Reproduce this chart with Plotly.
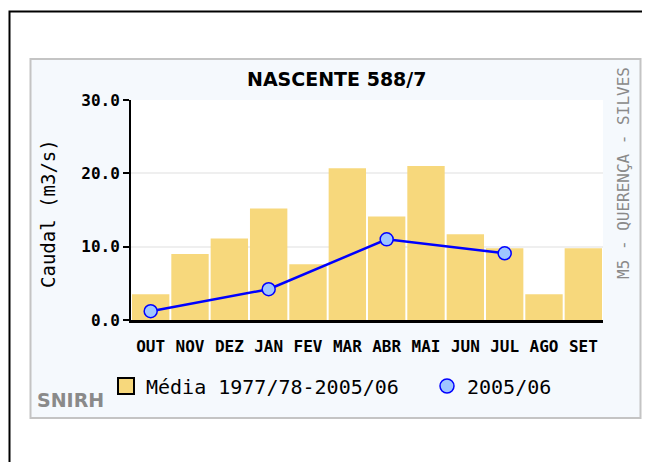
import plotly.graph_objects as go

months = ["OUT", "NOV", "DEZ", "JAN", "FEV", "MAR", "ABR", "MAI", "JUN", "JUL", "AGO", "SET"]
media = [3.5, 9.0, 11.1, 15.2, 7.6, 20.7, 14.1, 21.0, 11.7, 9.8, 3.5, 9.8]
ano = [1.2, None, None, 4.2, None, None, 11.0, None, None, 9.1, None, None]
yticks = [0, 10, 20, 30]
ytick_labels = ["0.0", "10.0", "20.0", "30.0"]

BAR = "#f7d87c"
LINE = "#0000ff"
MK = "#9fc5ff"
PANEL = "#f5f9fd"
GRAY = "#8a8a8a"

# page offset of the plot div (body margin)
OFF = 8
# plot area in page px: x 131..603, y 100..320
L, R, T, B = 131, 603, 100, 320
W, H = 650 - OFF, 462 - OFF
def px(x):
    return (x - L) / (R - L)
def py(y):
    return (B - y) / (B - T)

fig = go.Figure()
fig.add_trace(go.Bar(x=months, y=media, marker=dict(color=BAR, line=dict(width=0)),
                     showlegend=False, name="Média 1977/78-2005/06"))
fig.add_trace(go.Scatter(x=months, y=ano, mode="lines+markers", connectgaps=True,
                         line=dict(color=LINE, width=2.5),
                         marker=dict(size=13, color=MK, line=dict(color=LINE, width=1.5)),
                         showlegend=False, name="2005/06"))
# legend entries
fig.add_trace(go.Scatter(x=[None], y=[None], mode="markers", name="Média 1977/78-2005/06",
                         legend="legend",
                         marker=dict(symbol="square", size=16, color=BAR, line=dict(color="black", width=2))))
fig.add_trace(go.Scatter(x=[None], y=[None], mode="markers", name="2005/06",
                         legend="legend2",
                         marker=dict(symbol="circle", size=14, color=MK, line=dict(color=LINE, width=1.5))))

shapes = [
    # outer black frame
    dict(type="rect", xref="paper", yref="paper", x0=px(9.5), x1=px(700), y0=py(520), y1=py(11.5),
         line=dict(color="black", width=2), fillcolor="rgba(0,0,0,0)", layer="below"),
    # panel
    dict(type="rect", xref="paper", yref="paper", x0=px(30.5), x1=px(640.5), y0=py(418), y1=py(59),
         line=dict(color="#c4c4c4", width=2), fillcolor=PANEL, layer="below"),
    # plot background
    dict(type="rect", xref="paper", yref="paper", x0=0, x1=1, y0=0, y1=1,
         line=dict(width=0), fillcolor="white", layer="below"),
]

annotations = [
    dict(text="<b>NASCENTE 588/7</b>", xref="paper", yref="paper", x=px(337), y=py(79),
         showarrow=False, font=dict(family="DejaVu Sans", size=19, color="black"),
         xanchor="center", yanchor="middle"),
    dict(text="Caudal (m3/s)", xref="paper", yref="paper", x=px(48), y=py(214), textangle=-90,
         showarrow=False, font=dict(family="DejaVu Sans Mono", size=19, color="black"),
         xanchor="center", yanchor="middle"),
    dict(text="M5 - QUERENÇA - SILVES", xref="paper", yref="paper", x=px(623), y=py(173), textangle=-90,
         showarrow=False, font=dict(family="DejaVu Sans Mono", size=16, color=GRAY),
         xanchor="center", yanchor="middle"),
    dict(text="<b>SNIRH</b>", xref="paper", yref="paper", x=px(70), y=py(400),
         showarrow=False, font=dict(family="DejaVu Sans", size=19, color=GRAY),
         xanchor="center", yanchor="middle"),
]

legend_common = dict(orientation="h", yanchor="middle", xanchor="left",
                     font=dict(family="DejaVu Sans Mono", size=20, color="black"),
                     bgcolor="rgba(0,0,0,0)", itemclick=False, itemdoubleclick=False)

fig.update_layout(
    width=W, height=H,
    margin=dict(l=L - OFF, r=W - (R - OFF), t=T - OFF, b=H - (B - OFF), pad=0),
    paper_bgcolor="white", plot_bgcolor="rgba(0,0,0,0)",
    bargap=0.05,
    shapes=shapes, annotations=annotations,
    legend=dict(x=px(106), y=py(386), **legend_common),
    legend2=dict(x=px(427), y=py(386), **legend_common),
    xaxis=dict(type="category", range=[-0.5, 11.5], showgrid=False, showline=True,
               linecolor="black", linewidth=2.5,
               ticks="", tickfont=dict(family="DejaVu Sans Mono", size=16, color="black", weight="bold"),
               ticklabelstandoff=10, fixedrange=True),
    yaxis=dict(range=[0, 30], tickvals=yticks, ticktext=ytick_labels, showgrid=True,
               gridcolor="#efefef", gridwidth=1.5, zeroline=False,
               showline=True, linecolor="black", linewidth=2, ticks="outside", ticklen=6,
               tickwidth=2, tickcolor="black",
               tickfont=dict(family="DejaVu Sans Mono", size=16, color="black", weight="bold"),
               fixedrange=True),
)

fig.write_html("out.html")
